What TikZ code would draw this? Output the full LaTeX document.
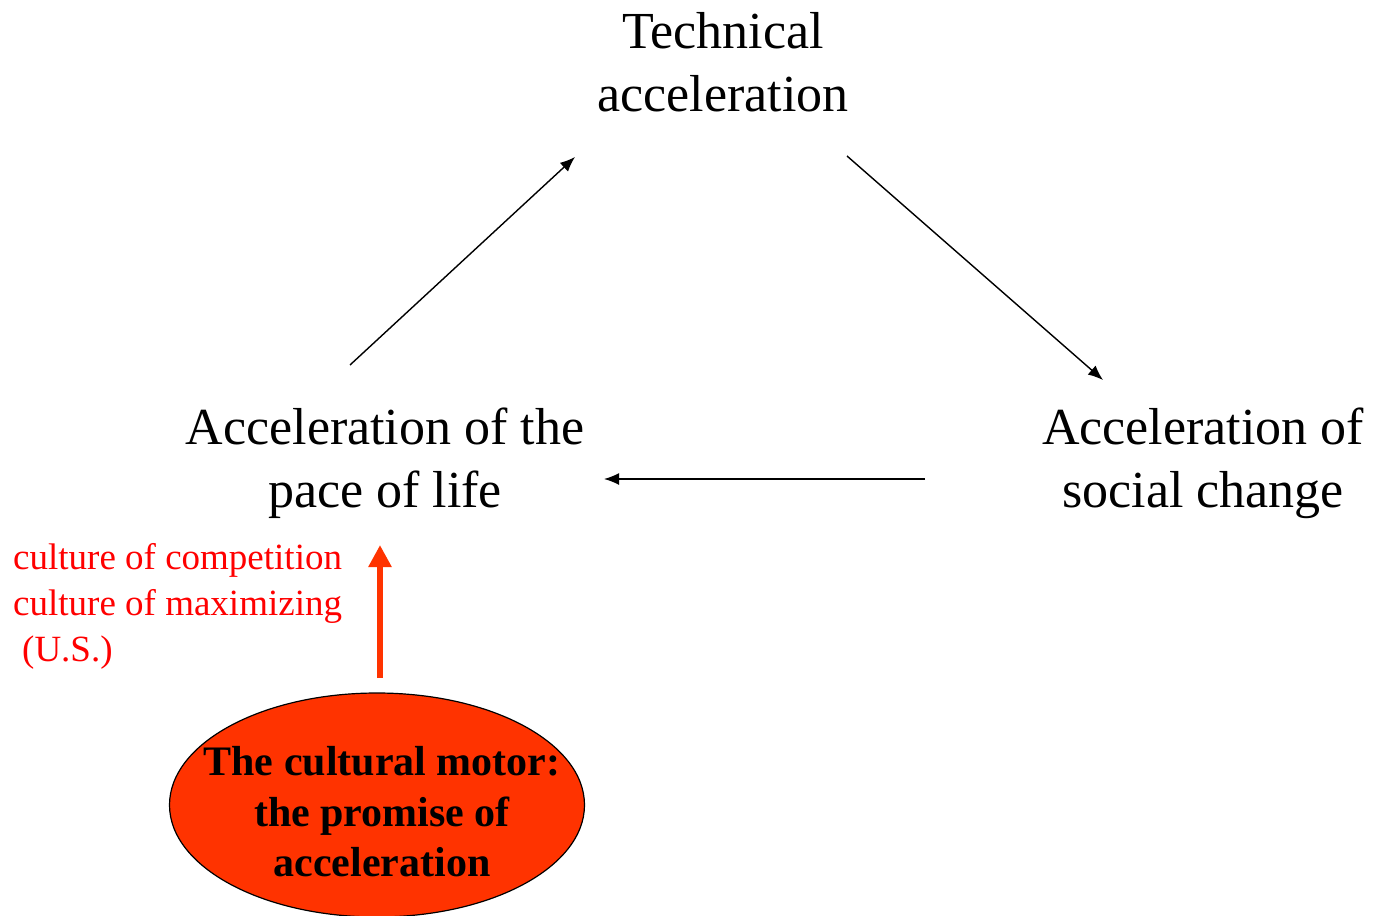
\documentclass[tikz,border=0pt]{standalone}
\usepackage{fontspec}
\setmainfont{Liberation Serif}
\usepackage{xcolor}
\usetikzlibrary{positioning, calc, arrows.meta}
\definecolor{motorred}{RGB}{255,51,0}

\begin{document}
\begin{tikzpicture}[x=1pt,y=-1pt,
    big/.style={align=center, inner sep=0pt, font=\fontsize{52}{63}\selectfont},
    link/.style={line width=1.4pt, -{Latex[length=15pt,width=12pt]}}]
    \useasboundingbox (0,0) rectangle (1375,915);
    \node[big] (tech) at (723,62) {Technical\\acceleration};
    \node[big] (life) at (385,463) {Acceleration of the\\pace of life};
    \node[big] (social) at (1203,463) {Acceleration of\\social change};
    \coordinate (a1) at (350,365);
    \coordinate (a2) at (575,157);
    \coordinate (b1) at (847,156);
    \coordinate (b2) at (1103,380);
    \coordinate (c1) at (925,479);
    \coordinate (c2) at (604,479);
    \draw[link] (a1)--(a2);
    \draw[link] (b1)--(b2);
    \draw[link] (c1)--(c2);
    % the cultural motor
    \filldraw[fill=motorred, line width=1.2pt] (377,805) ellipse[x radius=207.5, y radius=112];
    \node[inner sep=0pt, align=center, font=\fontsize{42}{50.5}\selectfont\bfseries] (motor) at (382,812)
      {The cultural motor:\\the promise of\\acceleration};
    \coordinate (m1) at (380,678);
    \coordinate (m2) at (380,545);
    \draw[motorred, line width=6pt, -{Triangle[length=22pt,width=22pt]}] (m1)--(m2);
    \node[anchor=north west, inner sep=0pt, align=left, text=red,
      font=\fontsize{37}{46}\selectfont] (culture) at (13,543)
      {culture of competition\\culture of maximizing\\\hspace*{9pt}(U.S.)};
  \end{tikzpicture}
\end{document}
